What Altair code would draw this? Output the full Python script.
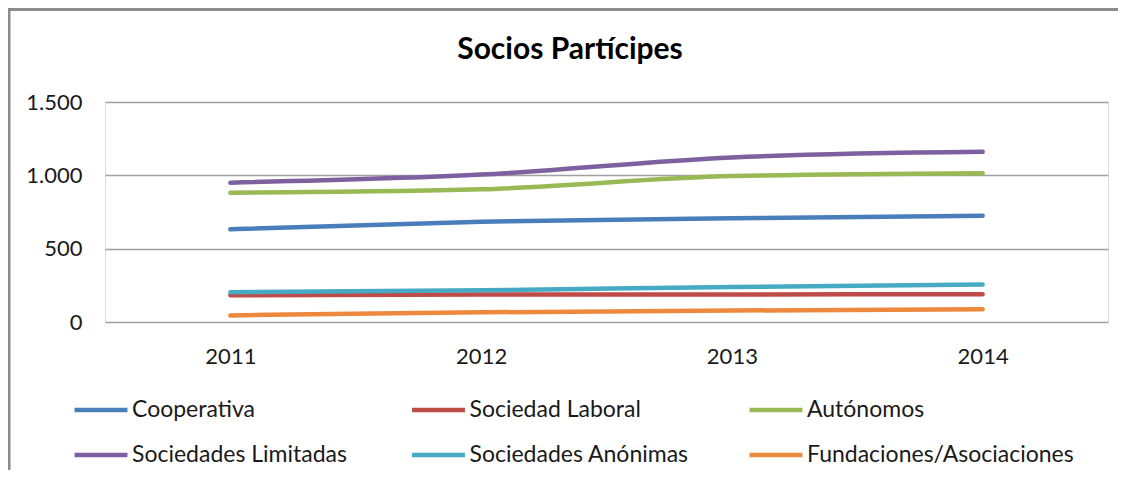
import altair as alt
import pandas as pd

years = ["2011", "2012", "2013", "2014"]
series = ["Cooperativa", "Sociedad Laboral", "Autónomos",
          "Sociedades Limitadas", "Sociedades Anónimas", "Fundaciones/Asociaciones"]
cooperativa = [632, 684, 707, 725]
sociedad_laboral = [182, 187, 188, 189]
autonomos = [882, 905, 995, 1015]
sociedades_limitadas = [950, 1005, 1122, 1160]
sociedades_anonimas = [203, 216, 239, 255]
fundaciones = [45, 66, 78, 87]
y_ticks = [0, 500, 1000, 1500]
colors = ["#4A7EBB", "#BE4B48", "#98B954", "#7D60A0", "#46AAC5", "#EC893D"]
chart_title = "Socios Partícipes"

values = [cooperativa, sociedad_laboral, autonomos,
          sociedades_limitadas, sociedades_anonimas, fundaciones]
rows = []
for name, vals in zip(series, values):
    for yr, v in zip(years, vals):
        rows.append({"Año": yr, "Forma": name, "Socios": v})
df = pd.DataFrame(rows)

FONT = "Lato"

lines = alt.Chart(df).mark_line(
    strokeWidth=4.5, strokeCap="round", strokeJoin="round", interpolate="monotone"
).encode(
    x=alt.X("Año:N", sort=years,
            scale=alt.Scale(type="point", padding=0.5),
            axis=alt.Axis(title=None, labelAngle=0, domain=False, ticks=False,
                          grid=False, labelPadding=24, labelFont=FONT,
                          labelFontSize=22, labelColor="#1a1a1a")),
    y=alt.Y("Socios:Q",
            scale=alt.Scale(domain=[0, 1500], nice=False),
            axis=alt.Axis(title=None, values=y_ticks,
                          labelExpr="replace(format(datum.value, ','), ',', '.')",
                          domain=False, ticks=False, grid=True,
                          gridColor="#a0a0a0", gridWidth=1.3,
                          labelPadding=23, labelFont=FONT, labelFontSize=22,
                          labelColor="#1a1a1a")),
    color=alt.Color("Forma:N", sort=series,
                    scale=alt.Scale(domain=series, range=colors),
                    legend=alt.Legend(title=None, orient="none", direction="horizontal",
                                      legendX=-33, legendY=279, columns=3,
                                      gridAlign="all", columnPadding=3.5,
                                      rowPadding=4,
                                      symbolType="stroke", symbolSize=2800,
                                      symbolStrokeWidth=4.5, labelOffset=2,
                                      labelFont=FONT, labelFontSize=23,
                                      labelColor="#1a1a1a", labelLimit=400)),
)

# chart frame (only its top and left edges fall inside the picture)
frame_df = pd.DataFrame({"k": [0]})
frame = alt.Chart(frame_df).mark_rect(
    fill="white", fillOpacity=0, stroke="#8c8c8c", strokeWidth=3
).encode(
    x=alt.value(-96), x2=alt.value(1200), y=alt.value(-92.5), y2=alt.value(600)
)
title_df = pd.DataFrame({"t": [chart_title]})
title_text = alt.Chart(title_df).mark_text(
    font=FONT, fontSize=30, fontWeight="bold", color="#000000",
    align="center", baseline="alphabetic"
).encode(
    text="t:N", x=alt.value(465), y=alt.value(-43.4)
)

chart = alt.layer(frame, title_text, lines).properties(
    width=1003,
    height=220,
    padding={"left": 97, "top": 94, "right": 10, "bottom": 148},
    autosize=alt.AutoSizeParams(type="none"),
).configure_view(strokeWidth=0).configure(background="white")

chart.save("out.html", embed_options={"renderer": "svg", "actions": False})
